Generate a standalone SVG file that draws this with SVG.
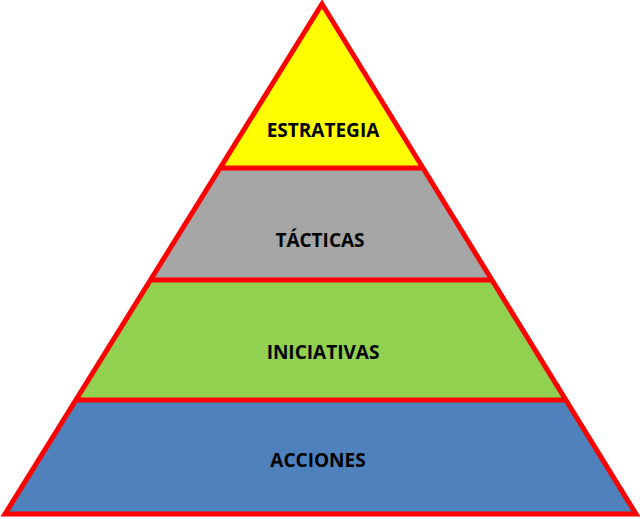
<svg xmlns="http://www.w3.org/2000/svg" width="640" height="519" viewBox="0 0 640 519">
<style>
.band{stroke:none}
.lbl{font-family:"Open Sans","Liberation Sans",sans-serif;font-weight:bold;font-size:19px;fill:#000;text-anchor:middle;dominant-baseline:central}
.edge{stroke:#FF0000;stroke-width:5;fill:none;stroke-linejoin:miter}
</style>
<rect width="640" height="519" fill="#fff"/>
<g id="estrategia"><polygon class="band" points="322,4 220,168 424,168" fill="#FFFF00"/><text class="lbl" x="323" y="130">ESTRATEGIA</text></g>
<g id="tacticas"><polygon class="band" points="220,168 424,168 492,280 150,280" fill="#A6A6A6"/><text class="lbl" x="320" y="240">TÁCTICAS</text></g>
<g id="iniciativas"><polygon class="band" points="150,280 492,280 566,400 76,400" fill="#92D050"/><text class="lbl" x="323" y="352">INICIATIVAS</text></g>
<g id="acciones"><polygon class="band" points="76,400 566,400 636,514 5,514" fill="#4F81BD"/><text class="lbl" x="318" y="460">ACCIONES</text></g>
<g id="connectors">
<polygon class="edge" points="322,4 636,514 5,514"/>
<line class="edge" x1="220" y1="168" x2="424" y2="168"/>
<line class="edge" x1="150" y1="280" x2="492" y2="280"/>
<line class="edge" x1="76" y1="400" x2="566" y2="400"/>
</g>
</svg>
